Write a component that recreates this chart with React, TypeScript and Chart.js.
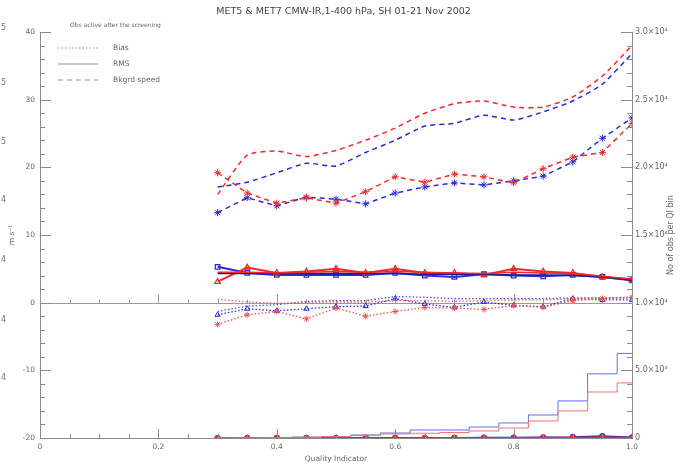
import React, { useEffect, useRef } from 'react';
import { Chart, registerables } from 'chart.js';
Chart.register(...registerables);

const qi = [0.30, 0.35, 0.40, 0.45, 0.50, 0.55, 0.60, 0.65, 0.70, 0.75, 0.80, 0.85, 0.90, 0.95, 1.00];

// Background speed (m/s)
const bkgRedAll = [16.0, 21.8, 22.4, 21.6, 22.5, 24.0, 25.8, 28.0, 29.4, 29.8, 28.9, 28.9, 30.4, 33.5, 38.0];
const bkgBlueAll = [17.1, 17.8, 19.2, 20.6, 20.2, 22.2, 24.0, 26.1, 26.5, 27.7, 27.0, 28.2, 29.8, 32.3, 36.8];
const bkgRedAct = [19.2, 16.2, 14.7, 15.5, 14.7, 16.4, 18.6, 17.8, 19.0, 18.6, 17.7, 19.8, 21.5, 22.2, 26.5];
const bkgBlueAct = [13.3, 15.5, 14.3, 15.6, 15.3, 14.6, 16.2, 17.1, 17.7, 17.4, 18.0, 18.7, 20.8, 24.3, 27.3];

// RMS (m/s)
const rmsRedAct = [3.1, 5.2, 4.4, 4.6, 5.0, 4.4, 5.0, 4.4, 4.4, 4.1, 5.0, 4.6, 4.4, 3.8, 3.4];
const rmsBlueAct = [5.3, 4.4, 4.1, 4.1, 4.1, 4.1, 4.4, 4.0, 3.8, 4.2, 4.0, 3.9, 4.1, 3.8, 3.3];
const rmsRedAll = [4.5, 4.5, 4.4, 4.5, 4.6, 4.5, 4.6, 4.5, 4.4, 4.3, 4.5, 4.4, 4.3, 3.9, 3.5];
const rmsBlueAll = [4.3, 4.3, 4.3, 4.3, 4.3, 4.3, 4.3, 4.2, 4.2, 4.2, 4.1, 4.1, 4.0, 3.8, 3.3];

// Bias (m/s)
const biasRedAct = [-3.2, -1.8, -1.3, -2.4, -0.8, -2.0, -1.3, -0.7, -0.8, -1.0, -0.4, -0.7, 0.3, 0.6, 0.8];
const biasBlueAct = [-1.8, -0.9, -1.2, -0.9, -0.6, -0.5, 0.6, -0.2, -0.7, 0.1, -0.4, -0.6, 0.6, 0.4, 0.4];
const biasRedAll = [0.5, 0.1, -0.1, 0.0, 0.1, 0.1, 0.3, 0.3, 0.2, 0.3, 0.4, 0.4, 0.6, 0.7, 0.8];
const biasBlueAll = [-1.3, -0.5, -0.3, 0.2, 0.3, 0.3, 0.9, 0.8, 0.6, 0.6, 0.6, 0.6, 0.7, 0.7, 0.7];

// Number of obs per QI bin
const histRed = [0, 10, 30, 60, 100, 200, 300, 350, 400, 520, 740, 1260, 2000, 3400, 4070];
const histBlue = [0, 20, 40, 60, 100, 220, 370, 590, 590, 815, 1110, 1700, 2740, 4740, 6250];
const cntRed = [0, 0, 0, 0, 0, 0, 0, 0, 10, 10, 20, 30, 40, 60, 40];
const cntBlue = [0, 0, 10, 10, 10, 10, 20, 20, 20, 30, 40, 60, 80, 150, 50];

const leftTicks = [-20, -10, 0, 10, 20, 30, 40];
const rightTickLabels: Record<number, string> = {
  0: '0', 5000: '5.0×10³', 10000: '1.0×10⁴', 15000: '1.5×10⁴',
  20000: '2.0×10⁴', 25000: '2.5×10⁴', 30000: '3.0×10⁴',
};
const leftFragments = ['5', '5', '5', '4', '4', '4', '4'];
const leftFragmentY = [28, 83, 142, 200, 260, 320, 378];

const RED = '#ee2a2a';
const BLUE = '#2a2ad8';
const FONT = 'DejaVu Sans';

const pts = (arr: number[]) => arr.map((v, i) => ({ x: qi[i], y: v }));

const decor = {
  id: 'decor',
  beforeDatasetsDraw(chart: any) {
    const { ctx, chartArea: ca } = chart;
    const xs = chart.scales.x;
    const yl = chart.scales.y;
    const y0 = Math.round(yl.getPixelForValue(0)) + 0.5;
    ctx.save();
    ctx.strokeStyle = '#9a9a9a';
    ctx.lineWidth = 1;
    ctx.beginPath();
    ctx.moveTo(ca.left, y0);
    ctx.lineTo(ca.right, y0);
    ctx.stroke();
    for (let i = 0; i <= 20; i++) {
      const x = Math.round(xs.getPixelForValue(i * 0.05)) + 0.5;
      const len = i % 4 === 0 ? 9 : 4;
      ctx.beginPath();
      ctx.moveTo(x, y0);
      ctx.lineTo(x, y0 - len);
      ctx.stroke();
    }
    ctx.restore();
  },
  afterDraw(chart: any) {
    const { ctx, chartArea: ca } = chart;
    const xs = chart.scales.x;
    const yl = chart.scales.y;
    const yr = chart.scales.y2;
    ctx.save();
    ctx.strokeStyle = '#8a8a8a';
    ctx.lineWidth = 1;
    const line = (a: number, b: number, c: number, d: number) => {
      ctx.beginPath();
      ctx.moveTo(a, b);
      ctx.lineTo(c, d);
      ctx.stroke();
    };
    for (let v = -20; v <= 40; v += 2) {
      const y = Math.round(yl.getPixelForValue(v)) + 0.5;
      const len = v % 10 === 0 ? 11 : 5;
      line(ca.left, y, ca.left + len, y);
    }
    for (let v = 0; v <= 30000; v += 1000) {
      const y = Math.round(yr.getPixelForValue(v)) + 0.5;
      const len = v % 5000 === 0 ? 11 : 5;
      line(ca.right - len, y, ca.right, y);
    }
    for (let i = 0; i <= 20; i++) {
      const x = Math.round(xs.getPixelForValue(i * 0.05)) + 0.5;
      const len = i % 4 === 0 ? 9 : 4;
      line(x, ca.bottom, x, ca.bottom - len);
    }

    // Legend
    ctx.fillStyle = '#666';
    ctx.textBaseline = 'middle';
    ctx.textAlign = 'left';
    ctx.font = `6px "${FONT}"`;
    ctx.fillText('Obs active after the screening', 70, 25);
    ctx.font = `7.5px "${FONT}"`;
    const items: [string, number[], number][] = [
      ['Bias', [1.5, 2], 48],
      ['RMS', [], 64],
      ['Bkgrd speed', [5, 4], 80],
    ];
    ctx.strokeStyle = '#b5b5b5';
    ctx.lineWidth = 1.5;
    for (const [label, dash, y] of items) {
      ctx.setLineDash(dash);
      line(58, y, 98, y);
      ctx.fillText(label, 113, y);
    }
    ctx.setLineDash([]);

    // Right axis title (reads bottom to top)
    ctx.font = `8px "${FONT}"`;
    ctx.fillStyle = '#666';
    ctx.textAlign = 'center';
    ctx.translate(671, (ca.top + ca.bottom) / 2);
    ctx.rotate(-Math.PI / 2);
    ctx.fillText('No of obs per QI bin', 0, 0);
    ctx.setTransform(1, 0, 0, 1, 0, 0);

    // Clipped labels of a neighbouring axis at the left edge
    ctx.textAlign = 'left';
    ctx.font = `8px "${FONT}"`;
    ctx.fillStyle = '#777';
    leftFragments.forEach((t, i) => ctx.fillText(t, 1, leftFragmentY[i]));
    ctx.restore();
  },
};

export default function App() {
  const ref = useRef<HTMLCanvasElement>(null);
  useEffect(() => {
    document.body.style.margin = '0';
    const dashed = (label: string, data: number[], color: string, star: boolean, tension = 0) => ({
      label, data: pts(data), borderColor: color, backgroundColor: color,
      borderWidth: 1.5, borderDash: [5, 4], tension,
      pointStyle: 'star', pointRadius: star ? 3.5 : 0, pointBorderWidth: 1,
      yAxisID: 'y',
    });
    const dotted = (label: string, data: number[], color: string, style: string | false) => ({
      label, data: pts(data), borderColor: color, backgroundColor: 'transparent',
      borderWidth: 1.3, borderDash: [1.5, 2],
      pointStyle: style || 'circle', pointRadius: style ? 3 : 0, pointBorderWidth: 1,
      yAxisID: 'y',
    });
    const solid = (label: string, data: number[], color: string, style: string | false, w = 2) => ({
      label, data: pts(data), borderColor: color, backgroundColor: 'transparent',
      borderWidth: w,
      pointStyle: style || 'circle', pointRadius: style ? 3.2 : 0, pointBorderWidth: 1.3,
      yAxisID: 'y',
    });
    const chart = new Chart(ref.current!, {
      type: 'line',
      data: {
        datasets: [
          { label: 'N red', data: pts(histRed), borderColor: '#f07070', borderWidth: 1, stepped: 'middle', pointRadius: 0, yAxisID: 'y2' } as any,
          { label: 'N blue', data: pts(histBlue), borderColor: '#6a6af0', borderWidth: 1, stepped: 'middle', pointRadius: 0, yAxisID: 'y2' } as any,
          { label: 'n red', data: pts(cntRed), borderColor: RED, backgroundColor: RED, borderWidth: 1.5, pointRadius: 2.3, yAxisID: 'y2' },
          { label: 'n blue', data: pts(cntBlue), borderColor: BLUE, backgroundColor: BLUE, borderWidth: 1.5, pointRadius: 2.3, yAxisID: 'y2' },
          dotted('Bias red all', biasRedAll, '#f06060', false),
          dotted('Bias blue all', biasBlueAll, '#5050e0', false),
          dotted('Bias red', biasRedAct, '#f05050', 'star'),
          dotted('Bias blue', biasBlueAct, BLUE, 'triangle'),
          solid('RMS red all', rmsRedAll, RED, false, 1.5),
          solid('RMS blue all', rmsBlueAll, '#1a1a90', false, 1.5),
          solid('RMS red', rmsRedAct, RED, 'triangle'),
          solid('RMS blue', rmsBlueAct, BLUE, 'rect'),
          dashed('Bkg red all', bkgRedAll, RED, false, 0.2),
          dashed('Bkg blue all', bkgBlueAll, BLUE, false, 0.2),
          dashed('Bkg red', bkgRedAct, RED, true),
          dashed('Bkg blue', bkgBlueAct, BLUE, true),
        ] as any,
      },
      options: {
        animation: false,
        responsive: false,
        maintainAspectRatio: false,
        layout: { padding: 0 },
        plugins: {
          legend: { display: false },
          tooltip: { enabled: false },
          title: {
            display: true,
            text: 'MET5 & MET7 CMW-IR,1-400 hPa, SH 01-21 Nov 2002',
            color: '#444',
            font: { family: FONT, size: 9.5, weight: 'normal' },
            padding: { top: 6, bottom: 14.6 },
          },
        },
        scales: {
          x: {
            type: 'linear', position: 'bottom', min: 0, max: 1,
            grid: { display: false, drawTicks: false },
            border: { display: true, color: '#8a8a8a' },
            ticks: {
              stepSize: 0.2, padding: 5, color: '#666',
              font: { family: FONT, size: 7.5 },
              callback: (v: any) => (Number(v) === 0 ? '0' : Number(v).toFixed(1)),
            },
            title: { display: true, text: 'Quality Indicator', color: '#666', font: { family: FONT, size: 7.5 }, padding: { top: 0, bottom: 2 } },
            afterFit: (s: any) => { s.height = 28; },
          },
          y: {
            type: 'linear', position: 'left', min: -20, max: 40,
            grid: { display: false, drawTicks: false },
            border: { display: true, color: '#8a8a8a' },
            afterBuildTicks: (s: any) => { s.ticks = leftTicks.map((v) => ({ value: v })); },
            ticks: { padding: 5, color: '#666', font: { family: FONT, size: 7.5 } },
            title: { display: true, text: 'm s⁻¹', color: '#666', font: { family: FONT, size: 7.5 }, padding: { top: 8, bottom: 0 } },
            afterFit: (s: any) => { s.width = 40; },
          },
          y2: {
            type: 'linear', position: 'right', min: 0, max: 30000,
            grid: { display: false, drawTicks: false },
            border: { display: true, color: '#8a8a8a' },
            ticks: {
              stepSize: 5000, padding: 3, color: '#666',
              font: { family: FONT, size: 8 },
              callback: (v: any) => rightTickLabels[Number(v)] ?? '',
            },
            afterFit: (s: any) => { s.width = 55; },
          },
        },
      } as any,
      plugins: [decor],
    });
    return () => chart.destroy();
  }, []);
  return (
    <div style={{ position: 'absolute', left: 0, top: 0, width: 687, height: 466, background: '#fff' }}>
      <canvas ref={ref} width={687} height={466} />
    </div>
  );
}
